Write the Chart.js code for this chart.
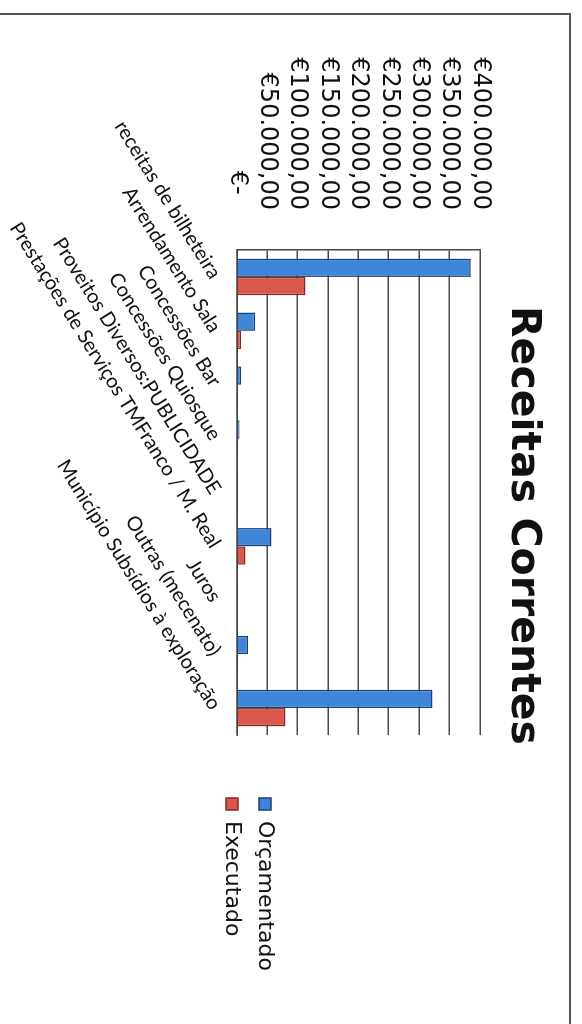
<!DOCTYPE html>
<html>
<head>
<meta charset="utf-8">
<script src="https://cdn.jsdelivr.net/npm/chart.js@4"></script>
<style>
  html, body { margin: 0; padding: 0; background: #fff; overflow: hidden; }
  #page {
    position: absolute; left: 0; top: 0;
    width: 1024px; height: 582px;
    transform-origin: 0 0;
    transform: translateX(582px) rotate(90deg);
    background: #fff;
  }
  #frame {
    position: absolute; left: 13px; top: 11px; right: -10px; bottom: -10px;
    border-left: 2px solid #555; border-top: 2px solid #555;
    pointer-events: none;
  }
  #chart { position: absolute; left: 0; top: 0; }
</style>
</head>
<body>
<div id="page">
  <canvas id="chart" width="1024" height="582"></canvas>
  <div id="frame"></div>
</div>
<script>
// Data
const categories = [
    'receitas de bilheteira',
    'Arrendamento Sala',
    'Concessões Bar',
    'Concessões Quiosque',
    'Proveitos Diversos:PUBLICIDADE',
    'Prestações de Serviços TMFranco / M. Real',
    'Juros',
    'Outras (mecenato)',
    'Município Subsídios à exploração'
];
const orcamentado = [385000, 30000, 7000, 4000, 2000, 57000, 1000, 18000, 322000];
const executado = [113000, 7000, 2000, 1500, 1000, 14000, 500, 2000, 80000];
const seriesNames = ['Orçamentado', 'Executado'];
const yTicks = [0, 50000, 100000, 150000, 200000, 250000, 300000, 350000, 400000];

function euro(v) {
    if (v === 0) return '€-\u00a0\u00a0';
    const s = String(Math.round(v)).replace(/\B(?=(\d{3})+(?!\d))/g, '.');
    return '€' + s + ',00';
}

// small position tweaks for title and legend boxes
const nudge = {
    id: 'nudge',
    afterLayout(chart) {
        chart.titleBlock.left += 52;
        chart.legend.top += 84;
        chart.legend.left += 52;
        chart.legend.right += 52;
    }
};

const ctx = document.getElementById('chart').getContext('2d');
new Chart(ctx, {
    type: 'bar',
    data: {
        labels: categories,
        datasets: [
            {
                label: seriesNames[0],
                data: orcamentado,
                backgroundColor: '#3f86d8',
                borderColor: '#1d3f7c',
                borderWidth: 1.5
            },
            {
                label: seriesNames[1],
                data: executado,
                backgroundColor: '#d9574c',
                borderColor: '#8a2a22',
                borderWidth: 1.5
            }
        ]
    },
    plugins: [nudge],
    options: {
        responsive: false,
        animation: false,
        layout: { padding: { left: 30, right: 55, top: 11, bottom: 10 } },
        datasets: { bar: { categoryPercentage: 0.68, barPercentage: 1 } },
        plugins: {
            title: {
                display: true,
                text: 'Receitas Correntes',
                color: '#111',
                font: { family: 'DejaVu Sans', size: 41, weight: 'bold' },
                padding: { top: 24, bottom: 18 }
            },
            legend: {
                position: 'right',
                labels: {
                    color: '#111',
                    font: { family: 'DejaVu Sans', size: 22 },
                    boxWidth: 12,
                    boxHeight: 12,
                    padding: 11
                }
            },
            tooltip: { enabled: false }
        },
        scales: {
            x: {
                grid: { display: false },
                border: { display: true, color: '#444', width: 1.5 },
                ticks: {
                    autoSkip: false,
                    minRotation: 32,
                    maxRotation: 32,
                    color: '#111',
                    font: { family: 'Lato', size: 20 }
                },
                afterFit: s => { s.height = 227; s.paddingRight = 289; }
            },
            y: {
                min: 0,
                max: 400000,
                afterBuildTicks: s => { s.ticks = yTicks.map(v => ({ value: v })); },
                afterFit: s => { s.width = 220; },
                grid: { color: '#4a4a4a', lineWidth: 1.5, drawTicks: false },
                border: { display: true, color: '#444', width: 1.5 },
                ticks: {
                    autoSkip: false,
                    padding: 40,
                    color: '#111',
                    font: { family: 'DejaVu Sans', size: 24 },
                    callback: v => euro(v)
                }
            }
        }
    }
});
</script>
</body>
</html>
